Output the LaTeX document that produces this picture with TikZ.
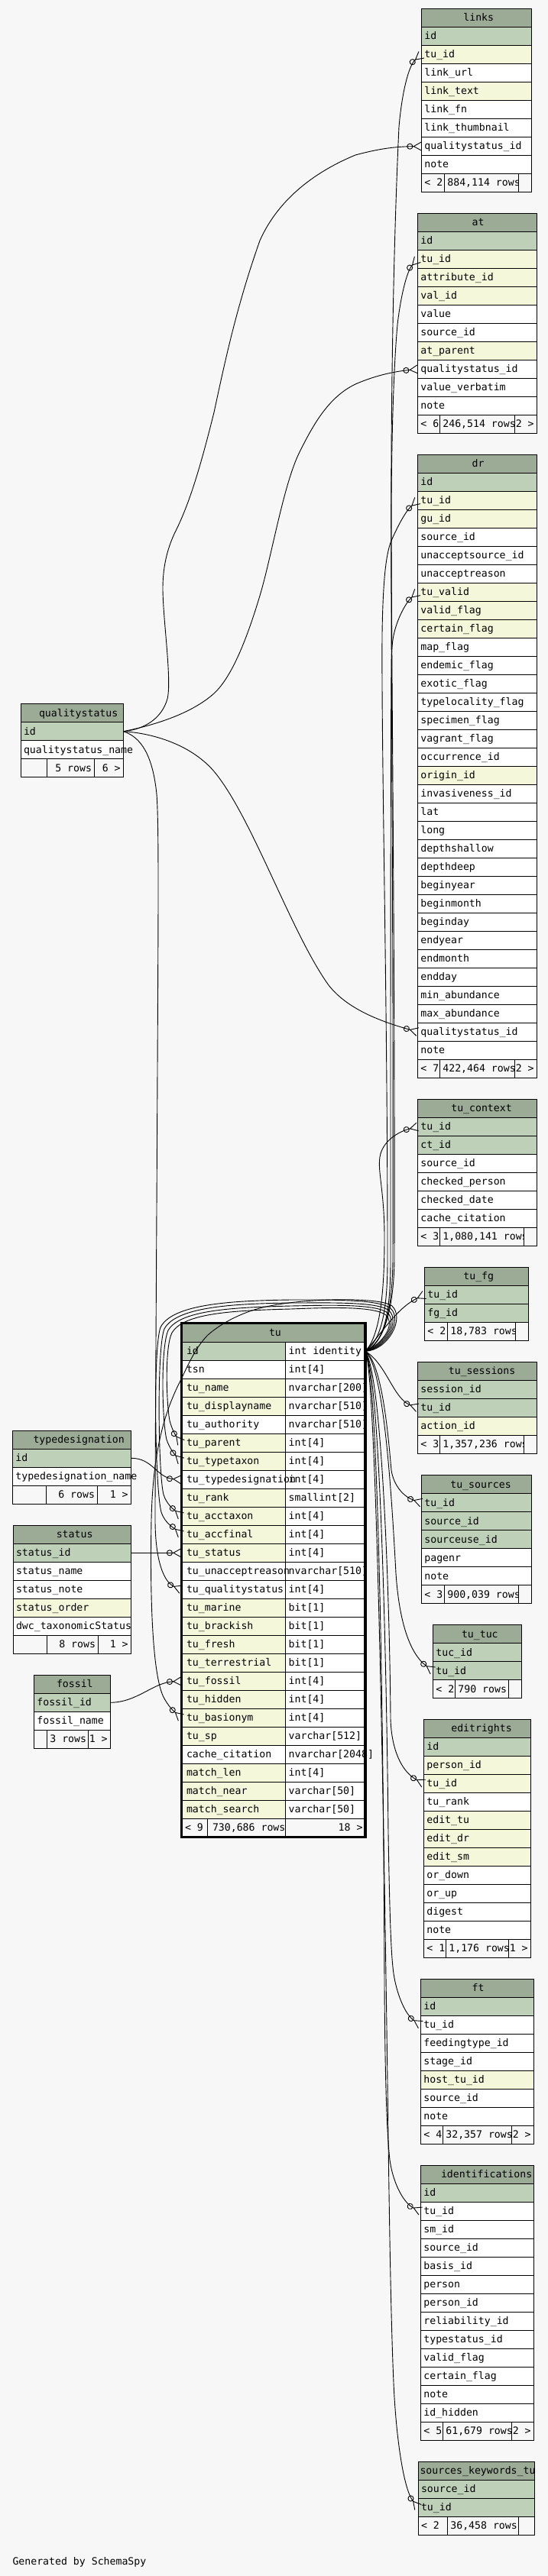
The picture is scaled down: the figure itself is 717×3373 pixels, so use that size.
\documentclass[tikz,border=0pt]{standalone}
\usepackage{fontspec}
\usetikzlibrary{arrows.meta}
\newfontfamily\dbfont{DejaVu Sans Mono}
\newcommand\dbf{\dbfont\fontsize{13.2pt}{15pt}\selectfont}
\definecolor{chd}{HTML}{9BAB96}
\definecolor{cp}{HTML}{BED1B8}
\definecolor{cy}{HTML}{F4F7DA}
\definecolor{cw}{HTML}{FFFFFF}
\definecolor{bgc}{HTML}{F7F7F7}
\tikzset{
  cell/.style={draw=black, line width=1pt, minimum height=24pt, inner sep=0pt, outer sep=0pt},
  hdr/.style={cell, fill=chd},
  foot/.style={cell, fill=bgc},
  txt/.style={font=\dbf, inner sep=0pt, outer sep=0pt, text=black},
  rel/.style={line width=0.9pt, -{Circle[open,length=8pt,width=8pt] Straight Barb[reversed,length=10pt,width=11pt]}},
}
% #1 name, #2 L, #3 R, #4 T, #5 title, #6 title x
\newcommand\dbtable[6]{%
  \node[hdr, minimum width={#3-#2}, anchor=north west] (#1) at (#2,#4) {};
  \node[txt, anchor=base west] (#1-title) at (#6, #4+16.4) {#5};
}
% #1 name, #2 L, #3 R, #4 T, #5 rows
\newcommand\dbrows[5]{%
  \foreach \k/\f [count=\i] in {#5} {
    \node[cell, fill=c\k, minimum width={#3-#2}, anchor=north west] (#1-\f) at (#2, #4+24*\i) {};
    \node[txt, anchor=base west] (#1-\f-t) at (#2+3.7, #4+24*\i+16.4) {\f};
  }
}
% #1 name, #2 L, #3 s1, #4 s2, #5 R, #6 y, #7 t1, #8 mid x, #9 t2
\newcommand\dbfoot[9]{%
  \node[foot, minimum width={#3-#2}, anchor=north west] (#1-f1) at (#2,#6) {};
  \node[txt, anchor=base west] (#1-f1t) at (#2+3.7, #6+16.4) {#7};
  \node[foot, minimum width={#4-#3}, anchor=north west] (#1-f2) at (#3,#6) {};
  \node[txt, anchor=base west] (#1-f2t) at (#8, #6+16.4) {#9};
  \node[foot, minimum width={#5-#4}, anchor=north west] (#1-f3) at (#4,#6) {};
}
% #1 name, #2 R, #3 y, #4 t3
\newcommand\dbfootr[4]{%
  \node[txt, anchor=base east] (#1-f3t) at (#2-3.7, #3+16.4) {#4};
}
\begin{document}
\catcode`\_=12
\begin{tikzpicture}[x=1pt,y=-1pt]
\fill[bgc] (0,0) rectangle (717,3373);
\useasboundingbox (0,0) rectangle (717,3373);

% ---------- links ----------
\dbtable{links}{551.7}{695.3}{11.5}{links}{606.4}
\dbrows{links}{551.7}{695.3}{11.5}{p/id,y/tu_id,w/link_url,y/link_text,w/link_fn,w/link_thumbnail,w/qualitystatus_id,w/note}
\dbfoot{links}{551.7}{581.7}{678.7}{695.3}{227.5}{< 2}{585.4}{884,114 rows}

% ---------- at ----------
\dbtable{at}{546.7}{702.3}{279.4}{at}{617.7}
\dbrows{at}{546.7}{702.3}{279.4}{p/id,y/tu_id,y/attribute_id,y/val_id,w/value,w/source_id,y/at_parent,w/qualitystatus_id,w/value_verbatim,w/note}
\dbfoot{at}{546.7}{575.7}{673.7}{702.3}{543.4}{< 6}{579.4}{246,514 rows}
\dbfootr{at}{702.3}{543.4}{2 >}

% ---------- dr ----------
\dbtable{dr}{546.7}{702.3}{595.2}{dr}{617.7}
\dbrows{dr}{546.7}{702.3}{595.2}{p/id,y/tu_id,y/gu_id,w/source_id,w/unacceptsource_id,w/unacceptreason,y/tu_valid,y/valid_flag,y/certain_flag,w/map_flag,w/endemic_flag,w/exotic_flag,w/typelocality_flag,w/specimen_flag,w/vagrant_flag,w/occurrence_id,y/origin_id,w/invasiveness_id,w/lat,w/long,w/depthshallow,w/depthdeep,w/beginyear,w/beginmonth,w/beginday,w/endyear,w/endmonth,w/endday,w/min_abundance,w/max_abundance,w/qualitystatus_id,w/note}
\dbfoot{dr}{546.7}{575.7}{673.7}{702.3}{1387.2}{< 7}{579.4}{422,464 rows}
\dbfootr{dr}{702.3}{1387.2}{2 >}

% ---------- qualitystatus ----------
\dbtable{qualitystatus}{27.3}{161.3}{921.7}{qualitystatus}{51}
\dbrows{qualitystatus}{27.3}{161.3}{921.7}{p/id,w/qualitystatus_name}
\dbfoot{qualitystatus}{27.3}{61.7}{123.7}{161.3}{993.7}{}{72.3}{5 rows}
\dbfootr{qualitystatus}{161.3}{993.7}{6 >}

% ---------- tu_context ----------
\dbtable{tu_context}{546.7}{702.3}{1439.3}{tu_context}{590.3}
\dbrows{tu_context}{546.7}{702.3}{1439.3}{p/tu_id,p/ct_id,w/source_id,w/checked_person,w/checked_date,w/cache_citation}
\dbfoot{tu_context}{546.7}{575.7}{685.7}{702.3}{1607.3}{< 3}{579.4}{1,080,141 rows}

% ---------- tu_fg ----------
\dbtable{tu_fg}{555.7}{691.3}{1659.3}{tu_fg}{606.4}
\dbrows{tu_fg}{555.7}{691.3}{1659.3}{p/tu_id,p/fg_id}
\dbfoot{tu_fg}{555.7}{585.7}{674.7}{691.3}{1731.3}{< 2}{589.4}{18,783 rows}

% ---------- tu_sessions ----------
\dbtable{tu_sessions}{546.7}{702.3}{1783.3}{tu_sessions}{586.9}
\dbrows{tu_sessions}{546.7}{702.3}{1783.3}{p/session_id,p/tu_id,y/action_id}
\dbfoot{tu_sessions}{546.7}{575.7}{685.7}{702.3}{1879.3}{< 3}{579.4}{1,357,236 rows}

% ---------- typedesignation ----------
\dbtable{typedesignation}{16.7}{171.3}{1873.3}{typedesignation}{43.5}
\dbrows{typedesignation}{16.7}{171.3}{1873.3}{p/id,w/typedesignation_name}
\dbfoot{typedesignation}{16.7}{60.3}{127.7}{171.3}{1945.3}{}{76.3}{6 rows}
\dbfootr{typedesignation}{171.3}{1945.3}{1 >}

% ---------- tu_sources ----------
\dbtable{tu_sources}{551.7}{695.3}{1931.7}{tu_sources}{589.3}
\dbrows{tu_sources}{551.7}{695.3}{1931.7}{p/tu_id,p/source_id,p/sourceuse_id,w/pagenr,w/note}
\dbfoot{tu_sources}{551.7}{581.7}{678.7}{695.3}{2075.7}{< 3}{585.4}{900,039 rows}

% ---------- status ----------
\dbtable{status}{17.3}{171.3}{1997.3}{status}{73.8}
\dbrows{status}{17.3}{171.3}{1997.3}{p/status_id,w/status_name,w/status_note,y/status_order,w/dwc_taxonomicStatus}
\dbfoot{status}{17.3}{61.7}{128.7}{171.3}{2141.3}{}{77.3}{8 rows}
\dbfootr{status}{171.3}{2141.3}{1 >}

% ---------- tu_tuc ----------
\dbtable{tu_tuc}{566.7}{682.3}{2127.7}{tu_tuc}{604}
\dbrows{tu_tuc}{566.7}{682.3}{2127.7}{p/tuc_id,p/tu_id}
\dbfoot{tu_tuc}{566.7}{595.7}{665.7}{682.3}{2199.7}{< 2}{599.4}{790 rows}

% ---------- fossil ----------
\dbtable{fossil}{44.7}{144.3}{2193.3}{fossil}{74}
\dbrows{fossil}{44.7}{144.3}{2193.3}{p/fossil_id,w/fossil_name}
\dbfoot{fossil}{44.7}{61.7}{115.7}{144.3}{2265.3}{}{65.4}{3 rows}
\dbfootr{fossil}{144.3}{2265.3}{1 >}

% ---------- editrights ----------
\dbtable{editrights}{554.7}{694.3}{2251.3}{editrights}{590.3}
\dbrows{editrights}{554.7}{694.3}{2251.3}{p/id,y/person_id,y/tu_id,w/tu_rank,y/edit_tu,y/edit_dr,y/edit_sm,w/or_down,w/or_up,w/digest,w/note}
\dbfoot{editrights}{554.7}{583.7}{665.7}{694.3}{2539.3}{< 1}{587.4}{1,176 rows}
\dbfootr{editrights}{694.3}{2539.3}{1 >}

% ---------- ft ----------
\dbtable{ft}{550.7}{698.3}{2591.3}{ft}{617.7}
\dbrows{ft}{550.7}{698.3}{2591.3}{p/id,w/tu_id,w/feedingtype_id,w/stage_id,y/host_tu_id,w/source_id,w/note}
\dbfoot{ft}{550.7}{579.7}{669.7}{698.3}{2783.3}{< 4}{583.4}{32,357 rows}
\dbfootr{ft}{698.3}{2783.3}{2 >}

% ---------- identifications ----------
\dbtable{identifications}{550.7}{698.3}{2835.3}{identifications}{577}
\dbrows{identifications}{550.7}{698.3}{2835.3}{p/id,w/tu_id,w/sm_id,w/source_id,w/basis_id,w/person,w/person_id,w/reliability_id,w/typestatus_id,w/valid_flag,w/certain_flag,w/note,w/id_hidden}
\dbfoot{identifications}{550.7}{579.7}{669.7}{698.3}{3171.3}{< 5}{583.4}{61,679 rows}
\dbfootr{identifications}{698.3}{3171.3}{2 >}

% ---------- sources_keywords_tu ----------
\dbtable{sources_keywords_tu}{547.3}{699.6}{3223.3}{sources_keywords_tu}{549.5}
\dbrows{sources_keywords_tu}{547.3}{699.6}{3223.3}{p/source_id,p/tu_id}
\dbfoot{sources_keywords_tu}{547.3}{585.7}{678.6}{699.6}{3295.3}{< 2}{589.4}{36,458 rows}

% ---------- tu (focus table) ----------
\node[hdr, minimum width=240.7pt, minimum height=24.8pt, anchor=north west] (tu) at (237.3,1732.5) {};
\node[txt, anchor=base west] (tu-title) at (352,1749.3) {tu};
\foreach \k/\f [count=\i from 0] in {p/id,w/tsn,y/tu_name,y/tu_displayname,w/tu_authority,y/tu_parent,y/tu_typetaxon,w/tu_typedesignation,y/tu_rank,y/tu_acctaxon,y/tu_accfinal,y/tu_status,w/tu_unacceptreason,w/tu_qualitystatus,y/tu_marine,y/tu_brackish,y/tu_fresh,y/tu_terrestrial,y/tu_fossil,y/tu_hidden,y/tu_basionym,y/tu_sp,w/cache_citation,y/match_len,y/match_near,y/match_search} {
  \node[cell, fill=c\k, minimum width=136pt, anchor=north west] (tu-\f) at (237.3, 1757.3+24*\i) {};
  \node[cell, fill=cw, minimum width=104.7pt, anchor=north west] (tu-\f-type) at (373.3, 1757.3+24*\i) {};
}
\foreach \f/\ty [count=\i from 0] in {id/int identity,tsn/int[4],tu_name/nvarchar[200],tu_displayname/nvarchar[510],tu_authority/nvarchar[510],tu_parent/int[4],tu_typetaxon/int[4],tu_typedesignation/int[4],tu_rank/smallint[2],tu_acctaxon/int[4],tu_accfinal/int[4],tu_status/int[4],tu_unacceptreason/nvarchar[510],tu_qualitystatus/int[4],tu_marine/bit[1],tu_brackish/bit[1],tu_fresh/bit[1],tu_terrestrial/bit[1],tu_fossil/int[4],tu_hidden/int[4],tu_basionym/int[4],tu_sp/varchar[512],cache_citation/nvarchar[2048],match_len/int[4],match_near/varchar[50],match_search/varchar[50]} {
  \node[txt, anchor=base west] (tu-\f-t) at (244, 1773.7+24*\i) {\f};
  \node[txt, anchor=base west] (tu-\f-tt) at (377.7, 1773.7+24*\i) {\ty};
}
\node[foot, minimum width=34.4pt, anchor=north west] (tu-f1) at (237.3,2381.3) {};
\node[txt, anchor=base west] (tu-f1t) at (242,2397.7) {< 9};
\node[foot, minimum width=101.6pt, anchor=north west] (tu-f2) at (271.7,2381.3) {};
\node[txt, anchor=base west] (tu-f2t) at (278,2397.7) {730,686 rows};
\node[foot, minimum width=104.7pt, anchor=north west] (tu-f3) at (373.3,2381.3) {};
\node[txt, anchor=base east] (tu-f3t) at (474.5,2397.7) {18 >};
\draw[line width=3.2pt] (237.3,1732.5) rectangle (478,2405.3);

% ---------- footer text ----------
\node[txt, anchor=base west] (generated) at (16.5,3358) {Generated by SchemaSpy};

% ---------- relationships: tu.id -> children ----------
\draw[rel] (tu-id-type.east) .. controls (500,1760) and (515,1720) .. (516,1650) .. controls (517,1200) and (511,800) .. (512,600) .. controls (513,400) and (518,250) .. (522,166) .. controls (526,120) and (535,85) .. (links-tu_id.west);
\draw[rel] (tu-id-type.east) .. controls (502,1758) and (513,1720) .. (514,1650) .. controls (515,1200) and (511,800) .. (512,650) .. controls (513,540) and (516,470) .. (520,425) .. controls (524,390) and (532,355) .. (at-tu_id.west);
\draw[rel] (tu-id-type.east) .. controls (498,1755) and (507,1720) .. (507,1650) .. controls (507,1300) and (499,1000) .. (500,830) .. controls (501,760) and (505,725) .. (512,708) .. controls (520,690) and (530,670) .. (dr-tu_id.west);
\draw[rel] (tu-id-type.east) .. controls (503,1757) and (511,1720) .. (511,1650) .. controls (511,1300) and (511,1000) .. (512,880) .. controls (512,855) and (513,842) .. (515,832) .. controls (520,808) and (532,788) .. (dr-tu_valid.west);
\draw[rel] (tu-id-type.east) .. controls (496,1750) and (503,1700) .. (503,1620) .. controls (503,1560) and (494,1535) .. (497,1515) .. controls (500,1495) and (520,1482) .. (tu_context-tu_id.west);
\draw[rel] (tu-id-type.east) .. controls (500,1745) and (520,1712) .. (tu_fg-tu_id.west);
\draw[rel] (tu-id-type.east) .. controls (505,1785) and (515,1832) .. (tu_sessions-tu_id.west);
\draw[rel] (tu-id-type.east) .. controls (500,1785) and (508,1880) .. (512,1925) .. controls (515,1945) and (528,1960) .. (tu_sources-tu_id.west);
\draw[rel] (tu-id-type.east) .. controls (502,1790) and (512,1950) .. (518,2060) .. controls (522,2120) and (535,2165) .. (tu_tuc-tu_id.west);
\draw[rel] (tu-id-type.east) .. controls (500,1800) and (510,2100) .. (511,2250) .. controls (512,2290) and (525,2320) .. (editrights-tu_id.west);
\draw[rel] (tu-id-type.east) .. controls (498,1800) and (506,2200) .. (508,2400) .. controls (510,2520) and (512,2570) .. (516,2590) .. controls (520,2612) and (530,2638) .. (ft-tu_id.west);
\draw[rel] (tu-id-type.east) .. controls (496,1800) and (502,2300) .. (503,2600) .. controls (504,2750) and (507,2800) .. (510,2828) .. controls (514,2858) and (528,2885) .. (identifications-tu_id.west);
\draw[rel] (tu-id-type.east) .. controls (494,1800) and (504,2500) .. (508,2800) .. controls (510,2950) and (512,3050) .. (515,3120) .. controls (518,3190) and (528,3260) .. (sources_keywords_tu-tu_id.west);

% ---------- self references ----------
\draw[rel] (tu-id-type.east) .. controls (500,1760) and (518,1735) .. (505,1722) .. controls (490,1710) and (430,1712) .. (380,1714) .. controls (300,1716) and (240,1720) .. (225,1745) .. controls (215,1765) and (218,1840) .. (222,1860) .. controls (225,1872) and (230,1880) .. (tu-tu_parent.west);
\draw[rel] (tu-id-type.east) .. controls (502,1762) and (521,1732) .. (507,1719) .. controls (492,1707) and (430,1709) .. (380,1710) .. controls (300,1712) and (235,1716) .. (220,1742) .. controls (210,1765) and (212,1860) .. (218,1885) .. controls (222,1897) and (229,1905) .. (tu-tu_typetaxon.west);
\draw[rel] (tu-id-type.east) .. controls (504,1764) and (524,1730) .. (509,1716) .. controls (494,1704) and (430,1706) .. (380,1706) .. controls (300,1707) and (230,1712) .. (215,1740) .. controls (205,1765) and (207,1930) .. (214,1957) .. controls (218,1970) and (228,1977) .. (tu-tu_acctaxon.west);
\draw[rel] (tu-id-type.east) .. controls (506,1766) and (527,1728) .. (511,1713) .. controls (496,1701) and (430,1702) .. (380,1702) .. controls (300,1703) and (225,1708) .. (210,1738) .. controls (200,1765) and (203,1950) .. (211,1980) .. controls (216,1995) and (228,2001) .. (tu-tu_accfinal.west);
\draw[rel] (tu-id-type.east) .. controls (508,1768) and (530,1726) .. (513,1710) .. controls (498,1698) and (400,1700) .. (353,1710) .. controls (320,1716) and (290,1732) .. (272,1748) .. controls (255,1765) and (245,1790) .. (235,1810) .. controls (215,1850) and (200,1900) .. (198,1990) .. controls (196,2100) and (200,2190) .. (213,2220) .. controls (220,2235) and (229,2242) .. (tu-tu_basionym.west);

% ---------- qualitystatus ----------
\draw[rel] (qualitystatus-id.east) .. controls (190,955) and (212,940) .. (219,915) .. controls (225,890) and (213,810) .. (213,770) .. controls (213,740) and (220,715) .. (230,695) .. controls (250,655) and (265,600) .. (280,540) .. controls (295,470) and (310,400) .. (340,315) .. controls (360,270) and (400,230) .. (465,203) .. controls (495,195) and (515,192) .. (links-qualitystatus_id.west);
\draw[rel] (qualitystatus-id.east) .. controls (200,950) and (250,935) .. (280,908) .. controls (305,885) and (325,830) .. (340,780) .. controls (355,730) and (370,640) .. (390,596) .. controls (410,555) and (430,520) .. (465,503) .. controls (495,490) and (520,486) .. (at-qualitystatus_id.west);
\draw[rel] (qualitystatus-id.east) .. controls (200,960) and (250,975) .. (280,1010) .. controls (330,1070) and (380,1220) .. (430,1290) .. controls (455,1322) and (500,1338) .. (dr-qualitystatus_id.west);
\draw[rel] (qualitystatus-id.east) .. controls (185,965) and (200,990) .. (205,1040) .. controls (208,1080) and (207,1200) .. (206,1400) .. controls (205,1600) and (203,1900) .. (203,1990) .. controls (203,2045) and (215,2072) .. (tu-tu_qualitystatus.west);

% ---------- other parents ----------
\draw[rel] (typedesignation-id.east) .. controls (200,1909) and (205,1935) .. (tu-tu_typedesignation.west);
\draw[rel] (status-status_id.east) -- (tu-tu_status.west);
\draw[rel] (fossil-fossil_id.east) .. controls (180,2229) and (200,2203) .. (tu-tu_fossil.west);
\end{tikzpicture}
\end{document}
